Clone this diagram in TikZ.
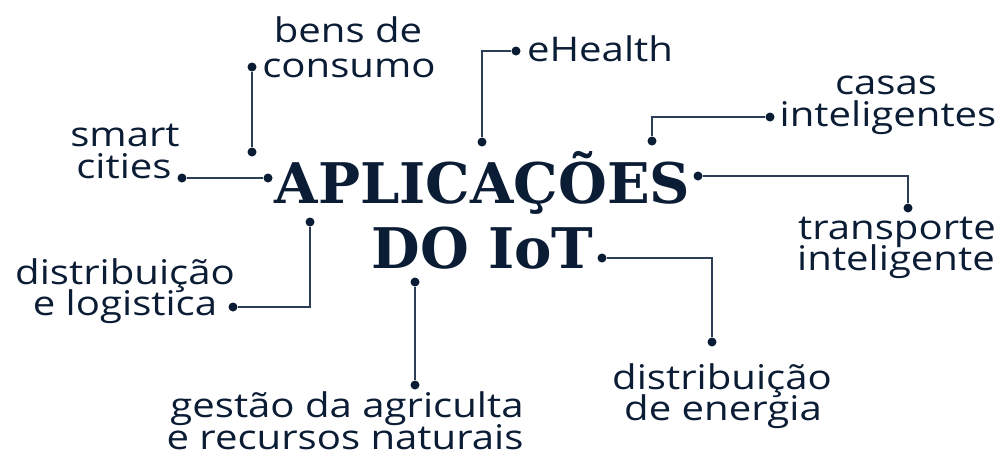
\documentclass[tikz,border=0pt]{standalone}
\usepackage{fontspec}
\setmainfont{Open Sans}
\newfontfamily\titlefont{DejaVu Serif}
\definecolor{ink}{HTML}{0B1C35}
\definecolor{wire}{HTML}{2C3E55}
\newcommand{\wide}[1]{\scalebox{1.18}[1]{#1}}
\tikzset{
  lbl/.style={font=\fontsize{34}{30}\selectfont, text=ink, inner sep=0pt, anchor=base},
  ttl/.style={font=\titlefont\bfseries\fontsize{56}{60}\selectfont, text=ink, inner sep=0pt, anchor=base},
  dot/.style={circle, fill=ink, inner sep=0pt, minimum size=9pt},
  wireline/.style={draw=wire, line width=1.8pt}
}
\begin{document}
\begin{tikzpicture}[x=1pt,y=-1pt]
\useasboundingbox (0,0) rectangle (1001,456);
% title
\node[ttl] (t1) at (482.5,203) {APLICAÇÕES};
\node[ttl] (t2) at (482.5,268) {DO IoT};
% labels
\node[lbl] (l1a) at (348,42) {\wide{bens de}};
\node[lbl] (l1b) at (349,77) {\wide{consumo}};
\node[lbl] (l2) at (600,61) {\wide{eHealth}};
\node[lbl] (l3a) at (886,94) {\wide{casas}};
\node[lbl] (l3b) at (888,126) {\wide{inteligentes}};
\node[lbl] (l4a) at (125,146) {\wide{smart}};
\node[lbl] (l4b) at (124,178) {\wide{cities}};
\node[lbl] (l5a) at (897,239) {\wide{transporte}};
\node[lbl] (l5b) at (896,270) {\wide{inteligente}};
\node[lbl] (l6a) at (125,284) {\wide{distribuição}};
\node[lbl] (l6b) at (125,315) {\wide{e logistica}};
\node[lbl] (l7a) at (722,389) {\wide{distribuição}};
\node[lbl] (l7b) at (723,420) {\wide{de energia}};
\node[lbl] (l8a) at (347,417) {\wide{gestão da agriculta}};
\node[lbl] (l8b) at (345,449) {\wide{e recursos naturais}};
% dots
\node[dot] (d1) at (252,67) {};
\node[dot] (d2) at (252,152) {};
\node[dot] (d3) at (182,178) {};
\node[dot] (d4) at (268,178) {};
\node[dot] (d5) at (516,51) {};
\node[dot] (d6) at (482,142) {};
\node[dot] (d7) at (770,117) {};
\node[dot] (d8) at (652,141) {};
\node[dot] (d9) at (698,176) {};
\node[dot] (d10) at (908,208) {};
\node[dot] (d11) at (602,258) {};
\node[dot] (d12) at (712,342) {};
\node[dot] (d13) at (415,282) {};
\node[dot] (d14) at (415,385) {};
\node[dot] (d15) at (310,222) {};
\node[dot] (d16) at (233,307) {};
% connectors
\draw[wireline] (d1) -- (d2);
\draw[wireline] (d3) -- (d4);
\draw[wireline] (d5) -| (d6);
\draw[wireline] (d7) -| (d8);
\draw[wireline] (d9) -| (d10);
\draw[wireline] (d11) -| (d12);
\draw[wireline] (d13) -- (d14);
\draw[wireline] (d15) |- (d16);
\end{tikzpicture}
\end{document}
